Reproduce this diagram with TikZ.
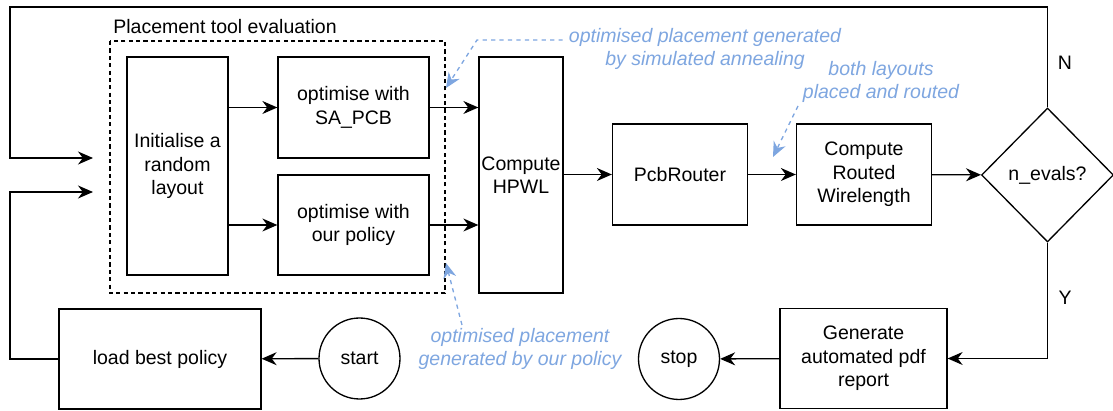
\documentclass[tikz,border=0pt]{standalone}
\usepackage{fontspec}
\usepackage{xcolor}
\usepackage{tikz}
\usetikzlibrary{shapes.geometric,arrows.meta}
\setmainfont{Liberation Sans}
\definecolor{notecol}{RGB}{126,166,224}

\begin{document}
\begin{tikzpicture}[x=0.02cm,y=-0.02cm,
        every node/.style={font=\fontsize{11.1}{13.4}\selectfont,align=center},
        step box/.style={rectangle,draw,line width=0.75pt,inner sep=0pt},
        end node/.style={circle,draw,line width=0.75pt,inner sep=0pt,minimum size=1.62cm},
        test node/.style={diamond,draw,line width=0.75pt,inner sep=0pt,minimum width=2.64cm,minimum height=2.68cm},
        flow edge/.style={draw,line width=0.75pt,-{Stealth[length=3mm,width=2.6mm]}},
        note text/.style={text=notecol,font=\fontsize{11.1}{13.4}\selectfont\itshape},
        note edge/.style={draw=notecol,line width=0.75pt,dash pattern=on 2.4pt off 2.4pt,
          -{Stealth[length=3mm,width=2.6mm,fill=notecol]}}
      ]
      \useasboundingbox (0,0) rectangle (1113,411);

      % placement tool group
      \draw[line width=0.75pt,dash pattern=on 2.4pt off 1.8pt] (110,41) rectangle (445,293);
      \node[anchor=west,inner sep=0pt] (grp) at (113,27) {Placement tool evaluation};

      \node[step box,minimum width=2.02cm,minimum height=4.36cm] (init) at (177.5,166) {Initialise a\\random\\layout};
      \node[step box,minimum width=3.02cm,minimum height=2.02cm] (sa) at (353.5,107.5) {optimise with\\SA\_PCB};
      \node[step box,minimum width=3.02cm,minimum height=2.0cm] (ours) at (353.5,225) {optimise with\\our policy};

      % main chain
      \node[step box,minimum width=1.68cm,minimum height=4.72cm] (hpwl) at (521,175) {Compute\\HPWL};
      \node[step box,minimum width=2.7cm,minimum height=2.02cm] (router) at (680,174.5) {PcbRouter};
      \node[step box,minimum width=2.7cm,minimum height=2.02cm] (routed) at (864,174.5) {Compute\\Routed\\Wirelength};
      \node[test node] (evals) at (1047.5,175) {n\_evals?};
      \node[step box,minimum width=3.34cm,minimum height=2.0cm] (gen) at (863.5,358.5) {Generate\\automated pdf\\report};
      \node[end node] (stop) at (679,359) {stop};
      \node[end node] (start) at (359.5,358.5) {start};
      \node[step box,minimum width=4.04cm,minimum height=2.0cm] (load) at (160,359) {load best policy};

      \node (nlab) at (1065,63) {N};
      \node (ylab) at (1065,298) {Y};

      % loose ends of the feedback lines
      \coordinate (in1) at (93,158);
      \coordinate (in2) at (93,192);

      \draw[flow edge] (init.east |- sa.west) -- (sa.west);
      \draw[flow edge] (init.east |- ours.west) -- (ours.west);
      \draw[flow edge] (sa.east) -- (sa.east -| hpwl.west);
      \draw[flow edge] (ours.east) -- (ours.east -| hpwl.west);
      \draw[flow edge] (hpwl.east |- router.west) -- (router.west);
      \draw[flow edge] (router) -- (routed);
      \draw[flow edge] (routed) -- (evals);
      \draw[flow edge] (gen) -- (stop);
      \draw[flow edge] (start) -- (load);

      \draw[flow edge] (evals.north) |- (10,7) |- (in1);
      \draw[flow edge] (evals.south) |- (gen.east);
      \draw[flow edge] (load.west) -| (10,192) -- (in2);

      % notes
      \node[note text] (note1) at (705,49) {optimised placement generated\\by simulated annealing};
      \node[note text] (note2) at (881,82) {both layouts\\placed and routed};
      \node[note text] (note3) at (520,349) {optimised placement\\generated by our policy};
      \coordinate (tip1) at (446,88);
      \coordinate (tip2) at (773,157);
      \coordinate (tip3) at (446,263);

      \draw[note edge] (note1.west |- 0,40) -- (477,40) -- (tip1);
      \draw[note edge] (798,106) -- (tip2);
      \draw[note edge] (462,325) -- (tip3);
    \end{tikzpicture}
\end{document}
